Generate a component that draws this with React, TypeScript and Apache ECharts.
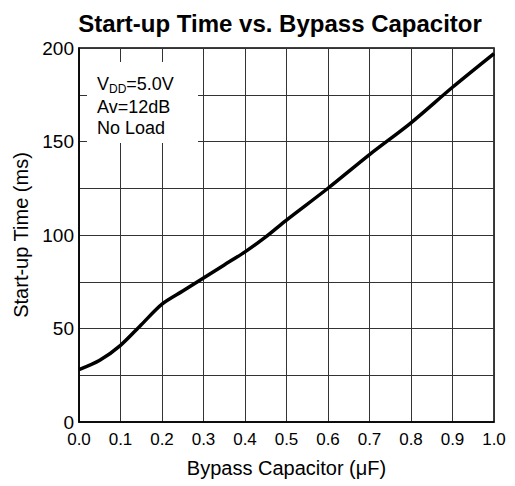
import React, { useEffect, useRef } from "react";
import * as echarts from "echarts";

const capacitance = [0, 0.05, 0.1, 0.15, 0.2, 0.25, 0.3, 0.35, 0.4, 0.45, 0.5, 0.6, 0.7, 0.8, 0.9, 1.0];
const startupTime = [28, 33, 41, 52, 63, 70, 77, 84, 91, 99, 108, 125, 143, 160, 179, 197];
const yLabeled = [0, 50, 100, 150, 200];
const FONT = "'Liberation Sans', Arial, sans-serif";

export default function App() {
  const ref = useRef<HTMLDivElement>(null);
  useEffect(() => {
    if (!ref.current) return;
    const chart = echarts.init(ref.current, null, { renderer: "svg" });
    chart.setOption({
      animation: false,
      backgroundColor: "#fff",
      title: {
        text: "Start-up Time vs. Bypass Capacitor",
        left: 275,
        textAlign: "center",
        top: 6,
        textStyle: { fontFamily: FONT, fontSize: 24, fontWeight: "bold", color: "#000" },
      },
      grid: {
        left: 79,
        right: 21,
        top: 48,
        bottom: 64,
        show: true,
        borderColor: "#000",
        borderWidth: 1.5,
        backgroundColor: "transparent",
      },
      xAxis: {
        type: "value",
        min: 0,
        max: 1,
        interval: 0.1,
        name: "Bypass Capacitor (\u03bcF)",
        nameLocation: "middle",
        nameGap: 36,
        nameTextStyle: { fontFamily: FONT, fontSize: 20, color: "#000" },
        axisLine: { show: true, lineStyle: { color: "#000", width: 1.5 } },
        axisTick: { show: false },
        axisLabel: {
          fontFamily: FONT,
          fontSize: 17,
          lineHeight: 17,
          color: "#000",
          margin: 9,
          formatter: (v: number) => v.toFixed(1),
        },
        splitLine: { show: true, lineStyle: { color: "#333", width: 1 } },
      },
      yAxis: {
        type: "value",
        min: 0,
        max: 200,
        interval: 25,
        name: "Start-up Time (ms)",
        nameLocation: "middle",
        nameGap: 46,
        nameTextStyle: { fontFamily: FONT, fontSize: 20, color: "#000" },
        axisLine: { show: true, lineStyle: { color: "#000", width: 1.5 } },
        axisTick: { show: false },
        axisLabel: {
          fontFamily: FONT,
          fontSize: 19,
          lineHeight: 14,
          color: "#000",
          margin: 5,
          formatter: (v: number) => (yLabeled.includes(v) ? String(v) : ""),
        },
        splitLine: { show: true, lineStyle: { color: "#333", width: 1 } },
      },
      graphic: [
        {
          type: "rect",
          z: 100,
          shape: { x: 87, y: 62, width: 111, height: 81 },
          style: { fill: "#fff" },
        },
        {
          type: "text",
          z: 101,
          x: 97,
          y: 84,
          style: {
            text: "{a|V}{b|DD}{a|=5.0V}",
            verticalAlign: "middle",
            rich: {
              a: { fontFamily: FONT, fontSize: 18, fill: "#000" },
              b: { fontFamily: FONT, fontSize: 12, fill: "#000", padding: [10, 0, 0, 0] },
            },
          },
        },
        {
          type: "text",
          z: 101,
          x: 97,
          y: 107,
          style: { text: "Av=12dB", fontFamily: FONT, fontSize: 18, fill: "#000", verticalAlign: "middle" },
        },
        {
          type: "text",
          z: 101,
          x: 97,
          y: 128,
          style: { text: "No Load", fontFamily: FONT, fontSize: 18, fill: "#000", verticalAlign: "middle" },
        },
      ],
      series: [
        {
          type: "line",
          data: capacitance.map((c, i) => [c, startupTime[i]]),
          smooth: 0.3,
          showSymbol: false,
          lineStyle: { color: "#000", width: 3.5 },
          z: 10,
        },
      ],
    });
    return () => chart.dispose();
  }, []);
  return <div ref={ref} style={{ width: 515, height: 486, position: "absolute", left: 0, top: 0 }} />;
}
